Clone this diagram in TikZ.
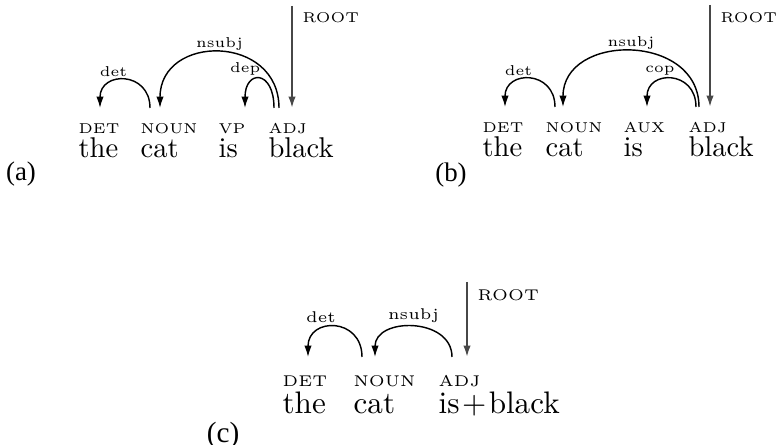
\documentclass[tikz,border=0pt]{standalone}
\usepackage{fontspec}
\newfontfamily\capfont{Liberation Serif}
\usetikzlibrary{arrows.meta}

\begin{document}
\begin{tikzpicture}[x=0.35pt,y=0.35pt,>={Latex[length=4pt,width=2.6pt]}]
  \tikzset{word/.style={inner sep=0pt,anchor=base west},
           tag/.style={word,font=\tiny},
           lbl/.style={font=\tiny,above,inner sep=1pt},
           deparc/.style={->,line width=0.5pt},
           rootarc/.style={->,line width=0.65pt,black!72},
           caption/.style={font=\capfont\fontsize{9.4}{11}\selectfont}}
  \useasboundingbox (0,0) rectangle (777,445);

  % (a) the parse with a VP tag on "is"
  \node[caption] (a) at (21,271) {(a)};
  \node[tag] (a-det) at (78,311) {DET};
  \node[tag] (a-noun) at (140,311) {NOUN};
  \node[tag] (a-vp) at (218,311) {VP};
  \node[tag] (a-adj) at (268,311) {ADJ};
  \node[word] (a-the) at (78,287) {the};
  \node[word] (a-cat) at (140,287) {cat};
  \node[word] (a-is) at (218,287) {is};
  \node[word] (a-black) at (268,287) {black};
  \coordinate (a-top) at (292,439);
  \node[tag] (a-root) at (302,422) {ROOT};
  \draw[rootarc] (a-top) -- ([shift={(24,26)}]a-adj.base west);
  \path[deparc]
  ([shift={(10,26)}]a-noun.base west)
  edge [out=90,in=90,distance=13pt] node [lbl,xshift=-4pt] {det} ([shift={(22,26)}]a-det.base west)
  ([shift={(11,26)}]a-adj.base west)
  edge [out=90,in=90,distance=26pt] node [lbl,yshift=-0.7pt] {nsubj} ([shift={(20,26)}]a-noun.base west)
  ([shift={(6,26)}]a-adj.base west)
  edge [out=90,in=90,distance=13.5pt] node [lbl,xshift=-5pt] {dep} ([shift={(27,26)}]a-vp.base west)
  ;

  % (b) copula attached to the adjective
  \node[caption] (b) at (451,270) {(b)};
  \node[tag] (b-det) at (482,312) {DET};
  \node[tag] (b-noun) at (545,312) {NOUN};
  \node[tag] (b-aux) at (623,312) {AUX};
  \node[tag] (b-adj) at (688,312) {ADJ};
  \node[word] (b-the) at (482,288) {the};
  \node[word] (b-cat) at (545,288) {cat};
  \node[word] (b-is) at (623,288) {is};
  \node[word] (b-black) at (688,288) {black};
  \coordinate (b-top) at (710,440);
  \node[tag] (b-root) at (720,422) {ROOT};
  \draw[rootarc] (b-top) -- ([shift={(22,26)}]b-adj.base west);
  \path[deparc]
  ([shift={(10,26)}]b-noun.base west)
  edge [out=90,in=90,distance=13pt] node [lbl,xshift=-4pt] {det} ([shift={(23,26)}]b-det.base west)
  ([shift={(11,26)}]b-adj.base west)
  edge [out=90,in=90,distance=26pt] node [lbl,yshift=-0.7pt] {nsubj} ([shift={(18,26)}]b-noun.base west)
  ([shift={(8,26)}]b-adj.base west)
  edge [out=90,in=90,distance=13pt] node [lbl,xshift=-4pt] {cop} ([shift={(24,26)}]b-aux.base west)
  ;

  % (c) copula merged into the adjective
  \begin{scope}[every node/.append style={scale=1.09}]
  \node[caption] (c) at (223,10) {(c)};
  \node[tag] (c-det) at (282,58) {DET};
  \node[tag] (c-noun) at (353,58) {NOUN};
  \node[tag] (c-adj) at (438,58) {ADJ};
  \node[word] (c-the) at (282,31) {the};
  \node[word] (c-cat) at (353,31) {cat};
  \node[word] (c-isblack) at (438,31) {is\kern0.8pt+\kern0.8pt black};
  \coordinate (c-top) at (467,163);
  \node[tag] (c-root) at (477,144) {ROOT};
  \draw[rootarc] (c-top) -- ([shift={(29,30)}]c-adj.base west);
  \path[deparc]
  ([shift={(9,30)}]c-noun.base west)
  edge [out=90,in=90,distance=14pt] node [lbl,xshift=-4.5pt] {det} ([shift={(26,30)}]c-det.base west)
  ([shift={(14,30)}]c-adj.base west)
  edge [out=90,in=90,distance=14pt] node [lbl] {nsubj} ([shift={(22,30)}]c-noun.base west)
  ;
  \end{scope}
\end{tikzpicture}
\end{document}
